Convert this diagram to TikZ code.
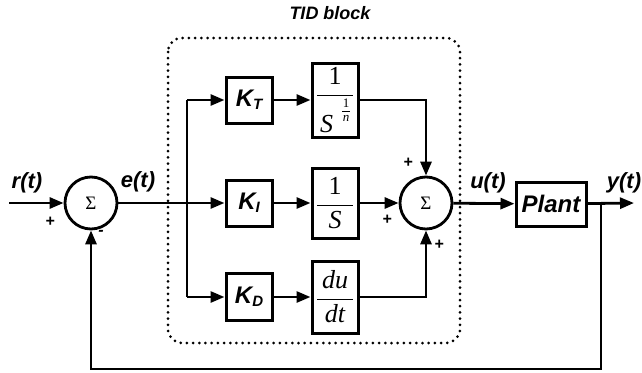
\documentclass[tikz,border=0pt]{standalone}
\usepackage{fontspec}
\setmainfont{Liberation Serif}
\newfontfamily\labelfont{Liberation Sans}
\usepackage{amsmath}
\usetikzlibrary{positioning,arrows.meta}
\newcommand{\gainsub}[1]{K\raisebox{-3pt}{\fontsize{15}{16}\selectfont #1}}
\newcommand{\opfrac}[2]{$\displaystyle\frac{\makebox[36pt]{#1}}{\makebox[36pt]{#2}}$}
\newcommand{\nthroot}{\hspace{9pt}\raisebox{11pt}{\fontsize{13}{13}\selectfont\upshape\shortstack[c]{1\\[0.5pt]\rule{8pt}{0.8pt}\\[0.5pt]\itshape n}}}
\begin{document}
\begin{tikzpicture}[x=1pt, y=-1pt, line width=2.8pt, >={Triangle[length=14pt,width=11pt]},
  lbl/.style={font=\labelfont\fontsize{22}{24}\selectfont\bfseries\itshape},
  sgn/.style={font=\labelfont\fontsize{16}{18}\selectfont\bfseries\itshape, inner sep=0pt},
  sumnode/.style={draw, circle, minimum size=52pt, inner sep=0pt, font=\fontsize{19}{21}\selectfont},
  gainbox/.style={draw, line width=3pt, minimum width=46pt, minimum height=46pt, inner sep=0pt, font=\labelfont\fontsize{24}{26}\selectfont\bfseries\itshape},
  opbox/.style={draw, line width=3pt, minimum width=46pt, inner sep=0pt, font=\fontsize{26}{28}\selectfont},
  tidframe/.style={line width=3pt, line cap=round, dash pattern=on 0pt off 6.2pt, rounded corners=14pt}]
\useasboundingbox (0,0) rectangle (642,372);
% TID frame
\draw[tidframe] (168,38) rectangle (460,343);
\node[font=\labelfont\fontsize{18}{20}\selectfont\bfseries\itshape] (tidlabel) at (330,13) {TID block};
% error summing point
\coordinate (in) at (9,203);
\node[sumnode] (sumE) at (91,203) {Σ};
\node[lbl] (rlabel) at (27,183) {r(t)};
\node[lbl] (elabel) at (138,182) {e(t)};
\node[sgn] (pE) at (50,222) {+};
\node[sgn] (mE) at (101,233) {-};
\coordinate (split) at (187,203);
% gains
\node[gainbox] (kT) at (249,100) {\gainsub{T}};
\node[gainbox] (kI) at (249,203) {\gainsub{I}};
\node[gainbox, minimum height=47pt] (kD) at (249,297) {\gainsub{D}};
% operators
\node[opbox, minimum height=74pt, right=37pt of kT] (fT) {\opfrac{1}{\itshape S\nthroot}};
\node[opbox, minimum height=70pt, right=37pt of kI] (fI) {\opfrac{1}{\itshape S}};
\node[opbox, minimum height=72pt, right=37pt of kD] (fD) {\opfrac{\itshape du}{\itshape dt}};
% control summing point
\node[sumnode] (sumU) at (426,203) {Σ};
\node[sgn] (pT) at (408,163) {+};
\node[sgn] (pI) at (387,220) {+};
\node[sgn] (pD) at (439,245) {+};
% plant
\node[lbl] (ulabel) at (488,183) {u(t)};
\node[gainbox, minimum width=70pt, minimum height=44pt] (plant) at (551,204) {Plant};
\coordinate (branch) at (601,203);
\coordinate (out) at (634,203);
\coordinate (fbR) at (601,369);
\node[lbl] (ylabel) at (624,183) {y(t)};
% connectors
\draw[->] (in) -- (sumE);
\draw[->] (sumE) -- (kI);
\draw (split |- kT) -- (split |- kD);
\draw[->] (split |- kT) -- (kT);
\draw[->] (split |- kD) -- (kD);
\draw[->] (kT) -- (fT);
\draw[->] (kI) -- (fI);
\draw[->] (kD) -- (fD);
\draw[->] (fT) -| (sumU);
\draw[->] (fI) -- (sumU);
\draw[->] (fD) -| (sumU);
\draw[->] (sumU) -- (plant);
\draw[->] (plant) -- (out);
\draw[->] (branch) -- (fbR) -| (sumE);
\end{tikzpicture}
\end{document}
